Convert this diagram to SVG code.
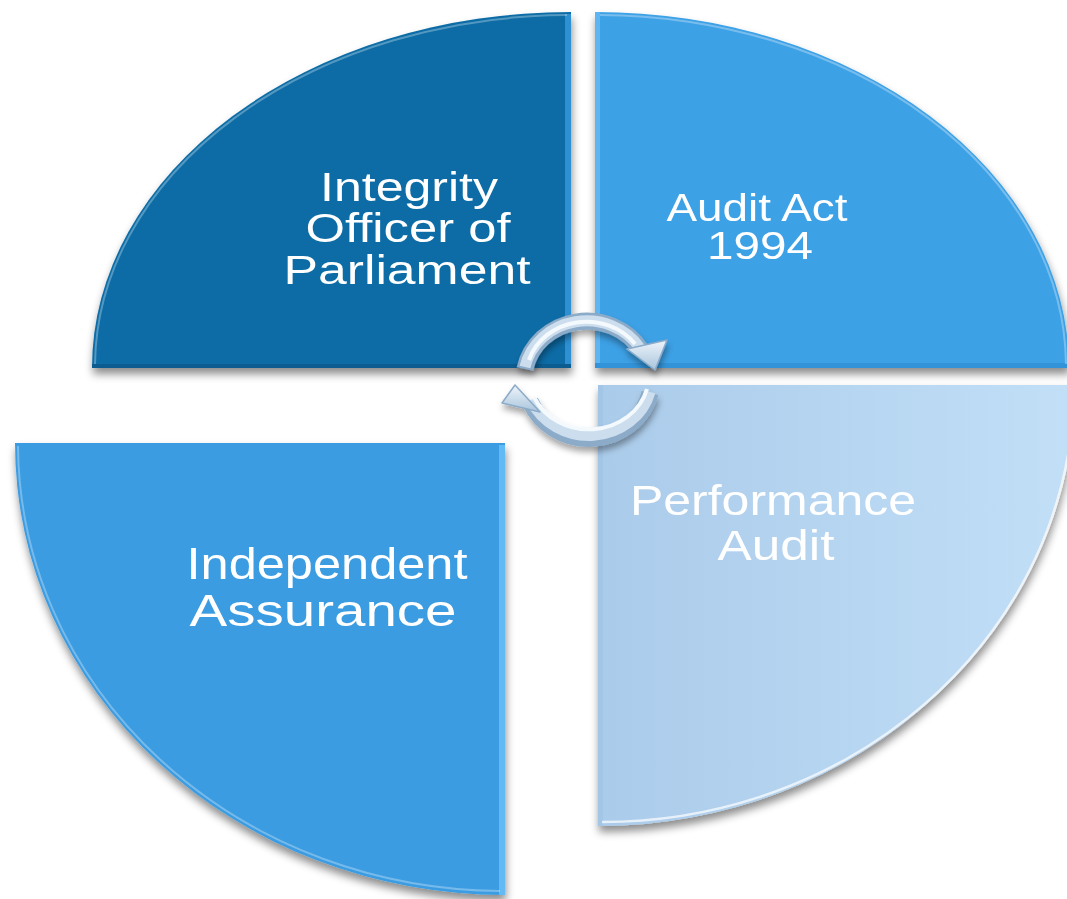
<svg xmlns="http://www.w3.org/2000/svg" width="1067" height="899" viewBox="0 0 1067 899">
  <defs>
    <filter id="shadow" x="-10%" y="-10%" width="130%" height="130%">
      <feGaussianBlur in="SourceAlpha" stdDeviation="4"/>
      <feOffset dx="1" dy="6" result="b"/>
      <feFlood flood-color="#000" flood-opacity="0.45"/>
      <feComposite in2="b" operator="in"/>
      <feMerge><feMergeNode/><feMergeNode in="SourceGraphic"/></feMerge>
    </filter>
    <filter id="ashadow" x="-20%" y="-20%" width="140%" height="150%">
      <feGaussianBlur in="SourceAlpha" stdDeviation="3"/>
      <feOffset dx="1" dy="5" result="b"/>
      <feFlood flood-color="#000" flood-opacity="0.35"/>
      <feComposite in2="b" operator="in"/>
      <feMerge><feMergeNode/><feMergeNode in="SourceGraphic"/></feMerge>
    </filter>
    <linearGradient id="gBR" x1="0" y1="0" x2="1" y2="0">
      <stop offset="0" stop-color="#AACBEA"/>
      <stop offset="1" stop-color="#C2DFF7"/>
    </linearGradient>
    <linearGradient id="gHead" x1="0" y1="0" x2="0" y2="1">
      <stop offset="0" stop-color="#EEF5FB"/>
      <stop offset="1" stop-color="#A9C4DC"/>
    </linearGradient>
  </defs>
  <style>
    .lbl { font-family: "Liberation Sans", Arial, sans-serif; fill: #FFFFFF; text-anchor: middle; }
    .rim { fill: none; stroke: #FFFFFF; stroke-opacity: 0.3; stroke-width: 2; }
    .tube-out { fill: none; stroke: #8CABC8; stroke-width: 17; }
    .tube-mid { fill: none; stroke: #CCDEEE; stroke-width: 11; }
    .tube-hi { fill: none; stroke: #F4F9FD; stroke-width: 4; }
    .head { fill: url(#gHead); stroke: #8CABC8; stroke-width: 1.5; stroke-linejoin: round; }
  </style>

  <g id="node-integrity" filter="url(#shadow)">
    <path d="M571,12 L571,368 L92,368 A479,356 0 0 1 571,12 Z" fill="#0A6CA6"/>
    <rect x="565" y="14" width="6" height="354" fill="#2E8FD3"/>
    <rect x="92" y="364" width="479" height="4" fill="#085C8F"/>
    <path d="M95,364 A476,352 0 0 1 567,15" class="rim"/>
    <text class="lbl" font-size="40"><tspan x="409" y="201" textLength="178" lengthAdjust="spacingAndGlyphs">Integrity</tspan><tspan x="408" y="242" textLength="205" lengthAdjust="spacingAndGlyphs">Officer of</tspan><tspan x="407" y="284" textLength="247" lengthAdjust="spacingAndGlyphs">Parliament</tspan></text>
  </g>

  <g id="node-auditact" filter="url(#shadow)">
    <path d="M595,368 L595,12 A474,356 0 0 1 1069,368 Z" fill="#3EA1E6"/>
    <rect x="595" y="12" width="5" height="356" fill="#5DB6F2"/>
    <rect x="595" y="363" width="474" height="5" fill="#3293D8"/>
    <path d="M600,15 A470,352 0 0 1 1066,364" class="rim"/>
    <text class="lbl" font-size="38"><tspan x="757" y="221" textLength="181" lengthAdjust="spacingAndGlyphs">Audit Act</tspan><tspan x="760" y="259" textLength="106" lengthAdjust="spacingAndGlyphs">1994</tspan></text>
  </g>

  <g id="node-performance" filter="url(#shadow)">
    <path d="M598,385 L1074,385 A476,441 0 0 1 598,826 Z" fill="url(#gBR)"/>
    <rect x="598" y="385" width="5" height="441" fill="#A3C5E6"/>
    <path d="M1068,455 A472,437 0 0 1 602,822" fill="none" stroke="#FFFFFF" stroke-opacity="0.7" stroke-width="2.5"/>
    <text class="lbl" font-size="42"><tspan x="773" y="515" textLength="286" lengthAdjust="spacingAndGlyphs">Performance</tspan><tspan x="776" y="560" textLength="117" lengthAdjust="spacingAndGlyphs">Audit</tspan></text>
  </g>

  <g id="node-independent" filter="url(#shadow)">
    <path d="M505,443 L505,895 A490,452 0 0 1 15,443 Z" fill="#3A9CE2"/>
    <rect x="499" y="445" width="6" height="450" fill="#62BAF4"/>
    <path d="M18,446 A486,448 0 0 0 500,891" class="rim"/>
    <text class="lbl" font-size="44"><tspan x="327" y="579" textLength="281" lengthAdjust="spacingAndGlyphs">Independent</tspan><tspan x="323" y="626" textLength="267" lengthAdjust="spacingAndGlyphs">Assurance</tspan></text>
  </g>

  <g id="connectors" filter="url(#ashadow)">
    <g id="arrow-top">
      <path d="M525,369 A63,59 0 0 1 641,350" class="tube-out"/>
      <path d="M525,367 A63,58 0 0 1 640,348" class="tube-mid"/>
      <path d="M529,360 A60,54 0 0 1 635,344" class="tube-hi"/>
      <polygon points="627,349 667,340 655,370" class="head"/>
    </g>
    <g id="arrow-bottom">
      <path d="M650,393 A63,59 0 0 1 530,401" class="tube-out"/>
      <path d="M650,392 A63,58 0 0 1 531,400" class="tube-mid"/>
      <path d="M647,389 A60,54 0 0 1 534,397" class="tube-hi"/>
      <polygon points="515,385 540,412 502,403" class="head"/>
    </g>
  </g>
</svg>
